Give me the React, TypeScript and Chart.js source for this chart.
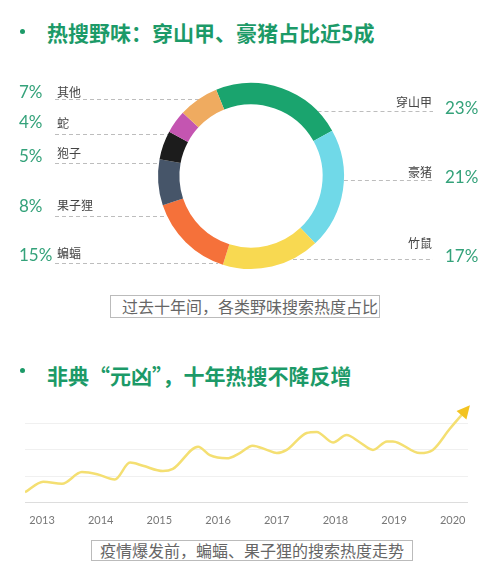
import React, { useEffect, useRef } from 'react';
import { Chart, registerables } from 'chart.js';

Chart.register(...registerables);

// ---------- data ----------
const species = ['穿山甲', '豪猪', '竹鼠', '蝙蝠', '果子狸', '狍子', '蛇', '其他'];
const shares = [23, 21, 17, 15, 8, 5, 4, 7];
const shareLabels = ['23%', '21%', '17%', '15%', '8%', '5%', '4%', '7%'];
const sliceColors = ['#1aa46e', '#70d9e8', '#f8d951', '#f5713a', '#465569', '#1c1c1c', '#c455b1', '#efab60'];

const years = [2013, 2014, 2015, 2016, 2017, 2018, 2019, 2020];
const yearLabels = ['2013', '2014', '2015', '2016', '2017', '2018', '2019', '2020'];
const trendX = [2012.71, 2013.02, 2013.34, 2013.68, 2013.94, 2014.24, 2014.5, 2014.72, 2015.06, 2015.23, 2015.66, 2015.86, 2016.15, 2016.37, 2016.59, 2016.83, 2017.0, 2017.17, 2017.51, 2017.68, 2017.96, 2018.19, 2018.42, 2018.64, 2018.88, 2018.98, 2019.44, 2019.66, 2019.95, 2020.26];
const trendY = [10, 20, 18, 29, 27, 22, 38, 35, 30, 32, 53, 45, 42, 47, 54, 50, 47, 50, 66, 67, 57, 64, 57, 50, 58, 58, 47, 50, 70, 90];

// ---------- layout (canvas coords of the doughnut canvas) ----------
const DONUT_TOP = 60;
// side, label y, percent y, leader line y (page coords)
const labelLayout: Record<string, { side: 'l' | 'r'; ty: number; py: number; ly: number }> = {
  '穿山甲': { side: 'r', ty: 102, py: 109, ly: 111 },
  '豪猪': { side: 'r', ty: 172, py: 178, ly: 180 },
  '竹鼠': { side: 'r', ty: 243, py: 257, ly: 259 },
  '蝙蝠': { side: 'l', ty: 253, py: 256, ly: 263 },
  '果子狸': { side: 'l', ty: 205, py: 207, ly: 216 },
  '狍子': { side: 'l', ty: 153, py: 157, ly: 163 },
  '蛇': { side: 'l', ty: 123, py: 123, ly: 134 },
  '其他': { side: 'l', ty: 92, py: 93, ly: 99 },
};

const sliceLabelPlugin = {
  id: 'sliceLabels',
  beforeDatasetsDraw(chart: any) {
    const arc = chart.getDatasetMeta(0).data[0];
    const cx = arc.x, cy = arc.y, R = arc.outerRadius;
    const ctx = chart.ctx;
    ctx.save();
    ctx.strokeStyle = '#bdbdbd';
    ctx.lineWidth = 1;
    ctx.setLineDash([4, 3]);
    species.forEach((name) => {
      const L = labelLayout[name];
      const y = L.ly - DONUT_TOP;
      const dy = y - cy;
      const half = Math.sqrt(Math.max(0, R * R - dy * dy));
      ctx.beginPath();
      if (L.side === 'l') {
        ctx.moveTo(55, y + 0.5);
        ctx.lineTo(cx - half, y + 0.5);
      } else {
        ctx.moveTo(cx + half, y + 0.5);
        ctx.lineTo(433, y + 0.5);
      }
      ctx.stroke();
    });
    ctx.restore();
  },
  afterDatasetsDraw(chart: any) {
    const ctx = chart.ctx;
    ctx.save();
    ctx.textBaseline = 'middle';
    species.forEach((name, i) => {
      const L = labelLayout[name];
      ctx.font = '12px "Noto Sans CJK SC"';
      ctx.fillStyle = '#444';
      if (L.side === 'l') {
        ctx.textAlign = 'left';
        ctx.fillText(name, 57, L.ty - DONUT_TOP);
      } else {
        ctx.textAlign = 'right';
        ctx.fillText(name, 432, L.ty - DONUT_TOP);
      }
      ctx.font = '17px Lato';
      ctx.fillStyle = '#34a27a';
      ctx.textAlign = 'left';
      ctx.fillText(shareLabels[i], L.side === 'l' ? 19 : 445, L.py - DONUT_TOP);
    });
    ctx.restore();
  },
};

const arrowPlugin = {
  id: 'arrowHead',
  afterDatasetsDraw(chart: any) {
    const pts = chart.getDatasetMeta(0).data;
    const b = pts[pts.length - 1];
    const a = pts[pts.length - 2];
    const fx = b.cp1x !== undefined ? b.cp1x : a.x;
    const fy = b.cp1y !== undefined ? b.cp1y : a.y;
    const ang = Math.atan2(b.y - fy, b.x - fx);
    const ctx = chart.ctx;
    ctx.save();
    ctx.translate(b.x, b.y);
    ctx.rotate(ang);
    ctx.fillStyle = '#f3c320';
    ctx.beginPath();
    ctx.moveTo(3, 0);
    ctx.lineTo(-10, -6.5);
    ctx.lineTo(-10, 6.5);
    ctx.closePath();
    ctx.fill();
    ctx.restore();
  },
};

const green = '#1c9a68';

function Bullet({ top }: { top: number }) {
  return (
    <div style={{ position: 'absolute', left: 20, top, width: 5, height: 5, borderRadius: '50%', background: green }} />
  );
}

export default function App() {
  const donutRef = useRef<HTMLCanvasElement>(null);
  const lineRef = useRef<HTMLCanvasElement>(null);

  useEffect(() => {
    const donut = new Chart(donutRef.current!, {
      type: 'doughnut',
      data: {
        labels: species,
        datasets: [{ data: shares, backgroundColor: sliceColors, borderWidth: 0 }],
      },
      options: {
        responsive: false,
        animation: false,
        rotation: -22,
        cutout: '77%',
        layout: { padding: { left: 158, right: 156, top: 23, bottom: 21 } },
        plugins: { legend: { display: false }, tooltip: { enabled: false } },
      },
      plugins: [sliceLabelPlugin],
    });

    const line = new Chart(lineRef.current!, {
      type: 'line',
      data: {
        datasets: [{
          data: trendX.map((x, i) => ({ x, y: trendY[i] })),
          borderColor: '#f4df72',
          borderWidth: 2.5,
          pointRadius: 0,
          cubicInterpolationMode: 'monotone',
          fill: false,
        }],
      },
      options: {
        responsive: false,
        animation: false,
        layout: { padding: { left: 25, right: 32, top: 7, bottom: 0 } },
        plugins: { legend: { display: false }, tooltip: { enabled: false } },
        scales: {
          x: {
            type: 'linear',
            min: trendX[0],
            max: trendX[trendX.length - 1],
            grid: { display: false },
            border: { display: false },
            afterBuildTicks: (axis: any) => { axis.ticks = years.map((v) => ({ value: v })); },
            ticks: {
              autoSkip: false,
              maxRotation: 0,
              padding: 3,
              color: '#777',
              font: { size: 11, family: 'Lato' },
              callback: (v: any) => yearLabels[years.indexOf(Number(v))] ?? '',
            },
          },
          y: {
            min: 0,
            max: 100,
            ticks: { display: false, stepSize: 25 },
            border: { display: false },
            grid: {
              drawTicks: false,
              color: (c: any) => (c.tick && c.tick.value >= 100 ? 'rgba(0,0,0,0)' : c.tick && c.tick.value === 0 ? '#dddddd' : '#f0f0f0'),
            },
          },
        },
      },
      plugins: [arrowPlugin],
    });

    return () => {
      donut.destroy();
      line.destroy();
    };
  }, []);

  const titleStyle: React.CSSProperties = {
    position: 'absolute', left: 47, fontFamily: '"Noto Sans CJK SC"', fontWeight: 700,
    fontSize: 21, lineHeight: '21px', color: green, whiteSpace: 'nowrap',
  };
  const captionStyle: React.CSSProperties = {
    position: 'absolute', boxSizing: 'border-box', border: '1px solid #bbb',
    fontFamily: '"Noto Sans CJK SC"', fontSize: 16, color: '#666', whiteSpace: 'nowrap',
  };

  return (
    <div style={{ position: 'absolute', left: 0, top: 0, width: 500, height: 574, background: '#fff', overflow: 'hidden' }}>
      <Bullet top={29} />
      <div style={{ ...titleStyle, top: 22 }}>热搜野味：穿山甲、豪猪占比近5成</div>
      <canvas ref={donutRef} width={500} height={230} style={{ position: 'absolute', left: 0, top: DONUT_TOP, display: 'block' }} />
      <div style={{ ...captionStyle, left: 110, top: 295, width: 270, height: 23, lineHeight: '21px', paddingLeft: 11 }}>过去十年间，各类野味搜索热度占比</div>
      <Bullet top={368} />
      <div style={{ ...titleStyle, top: 365 }}>非典“元凶”，十年热搜不降反增</div>
      <canvas ref={lineRef} width={500} height={140} style={{ position: 'absolute', left: 0, top: 390, display: 'block' }} />
      <div style={{ ...captionStyle, left: 91, top: 540, width: 322, height: 21, lineHeight: '19px', paddingLeft: 8 }}>疫情爆发前，蝙蝠、果子狸的搜索热度走势</div>
    </div>
  );
}
